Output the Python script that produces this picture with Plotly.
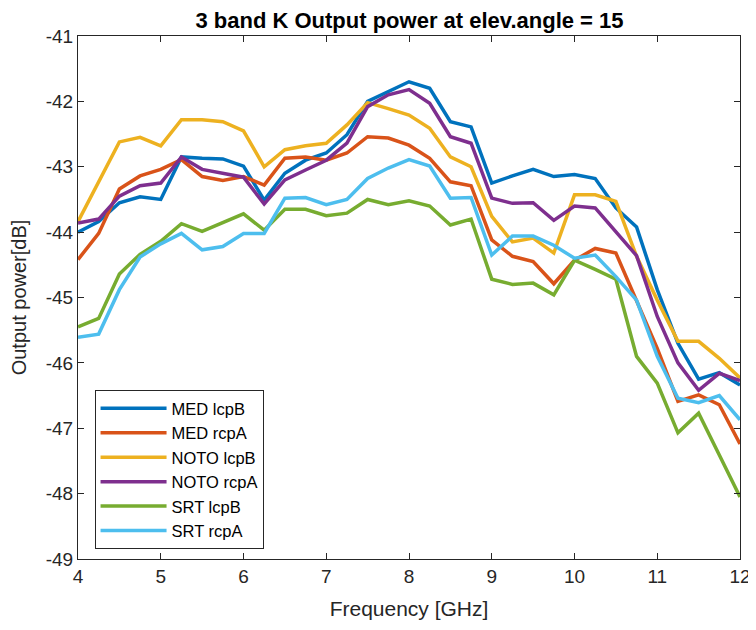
import numpy as np
import plotly.graph_objects as go

# frequency grid, 0.25 GHz step
freq = [4.0, 4.25, 4.5, 4.75, 5.0, 5.25, 5.5, 5.75, 6.0, 6.25, 6.5, 6.75,
        7.0, 7.25, 7.5, 7.75, 8.0, 8.25, 8.5, 8.75, 9.0, 9.25, 9.5, 9.75,
        10.0, 10.25, 10.5, 10.75, 11.0, 11.25, 11.5, 11.75, 12.0]

med_lcpB = [-44.00, -43.84, -43.55, -43.46, -43.50, -42.85, -42.87, -42.88, -42.99, -43.51, -43.10,
            -42.90, -42.79, -42.51, -42.00, -41.85, -41.70, -41.80, -42.31, -42.39, -43.25, -43.14,
            -43.04, -43.15, -43.12, -43.18, -43.63, -43.92, -44.88, -45.70, -46.25, -46.15, -46.34]
med_rcpA = [-44.42, -44.02, -43.34, -43.14, -43.04, -42.89, -43.15, -43.21, -43.15, -43.28, -42.87,
            -42.85, -42.90, -42.79, -42.54, -42.56, -42.67, -42.87, -43.23, -43.29, -44.12, -44.37,
            -44.45, -44.79, -44.43, -44.25, -44.32, -45.04, -45.78, -46.59, -46.49, -46.64, -47.24]
noto_lcpB = [-43.84, -43.23, -42.62, -42.55, -42.68, -42.28, -42.28, -42.31, -42.45, -43.00, -42.74,
             -42.68, -42.64, -42.36, -42.02, -42.11, -42.21, -42.41, -42.85, -43.00, -43.76, -44.15,
             -44.09, -44.32, -43.43, -43.43, -43.53, -44.37, -45.04, -45.67, -45.67, -45.93, -46.23]
noto_rcpA = [-43.86, -43.80, -43.45, -43.29, -43.25, -42.85, -43.04, -43.10, -43.16, -43.57, -43.20,
             -43.05, -42.90, -42.64, -42.08, -41.90, -41.82, -42.03, -42.54, -42.64, -43.48, -43.56,
             -43.55, -43.82, -43.60, -43.63, -43.99, -44.36, -45.29, -46.00, -46.42, -46.16, -46.27]
srt_lcpB = [-45.45, -45.32, -44.64, -44.34, -44.14, -43.87, -43.99, -43.85, -43.72, -43.97, -43.65,
            -43.65, -43.75, -43.71, -43.50, -43.58, -43.52, -43.60, -43.89, -43.80, -44.72, -44.80,
            -44.78, -44.96, -44.43, -44.57, -44.72, -45.90, -46.31, -47.07, -46.77, -47.41, -48.05]
srt_rcpA = [-45.61, -45.56, -44.88, -44.38, -44.18, -44.02, -44.27, -44.22, -44.02, -44.02, -43.48,
            -43.47, -43.58, -43.50, -43.18, -43.02, -42.89, -42.99, -43.48, -43.47, -44.35, -44.06,
            -44.06, -44.20, -44.40, -44.35, -44.68, -45.04, -45.90, -46.54, -46.61, -46.50, -46.87]

names = ["MED lcpB", "MED rcpA", "NOTO lcpB", "NOTO rcpA", "SRT lcpB", "SRT rcpA"]
series = [med_lcpB, med_rcpA, noto_lcpB, noto_rcpA, srt_lcpB, srt_rcpA]
# matlab default line colors
colors = ["#0072BD", "#D95319", "#EDB120", "#7E2F8E", "#77AC30", "#4DBEEE"]

x_ticks = list(range(4, 13))
y_ticks = list(range(-49, -40))
# matlab prints a plain hyphen, not the unicode minus
y_ticktext = [str(v) for v in y_ticks]

fig = go.Figure()
for name, vals, c in zip(names, series, colors):
    fig.add_trace(go.Scatter(x=freq, y=vals, mode="lines", name=name,
                             line=dict(color=c, width=3.5)))

axis_col = "#262626"
font_fam = "Liberation Sans, Arial, sans-serif"

# page body adds an 8px offset, margins account for it
fig.update_layout(
    width=756, height=630,
    margin=dict(l=70, r=24, t=28, b=79),
    paper_bgcolor="white", plot_bgcolor="white",
    font=dict(family=font_fam, size=19, color=axis_col),
    title=dict(text="<b>3 band K Output power at elev.angle = 15</b>",
               x=0.5311, xanchor="center", y=0.981, yanchor="middle",
               font=dict(size=22, color="black")),
    legend=dict(x=0.025, y=0.323, xanchor="left", yanchor="top",
                bgcolor="white", bordercolor=axis_col, borderwidth=1,
                font=dict(size=16.5, color="black"), itemwidth=66,
                tracegroupgap=0),
    showlegend=True,
)
fig.update_xaxes(range=[4, 12], tickvals=x_ticks, ticks="inside", ticklen=6,
                 showline=True, linecolor=axis_col, linewidth=1, mirror="ticks",
                 showgrid=False, zeroline=False, tickcolor=axis_col, automargin=False,
                 title=dict(text="Frequency [GHz]", font=dict(size=21), standoff=15))
fig.update_yaxes(range=[-49, -41], tickvals=y_ticks, ticktext=y_ticktext,
                 ticks="inside", ticklen=6,
                 showline=True, linecolor=axis_col, linewidth=1, mirror="ticks",
                 showgrid=False, zeroline=False, tickcolor=axis_col, automargin=False,
                 title=dict(text="Output power[dB]", font=dict(size=20), standoff=13))

fig.write_html("out.html")
